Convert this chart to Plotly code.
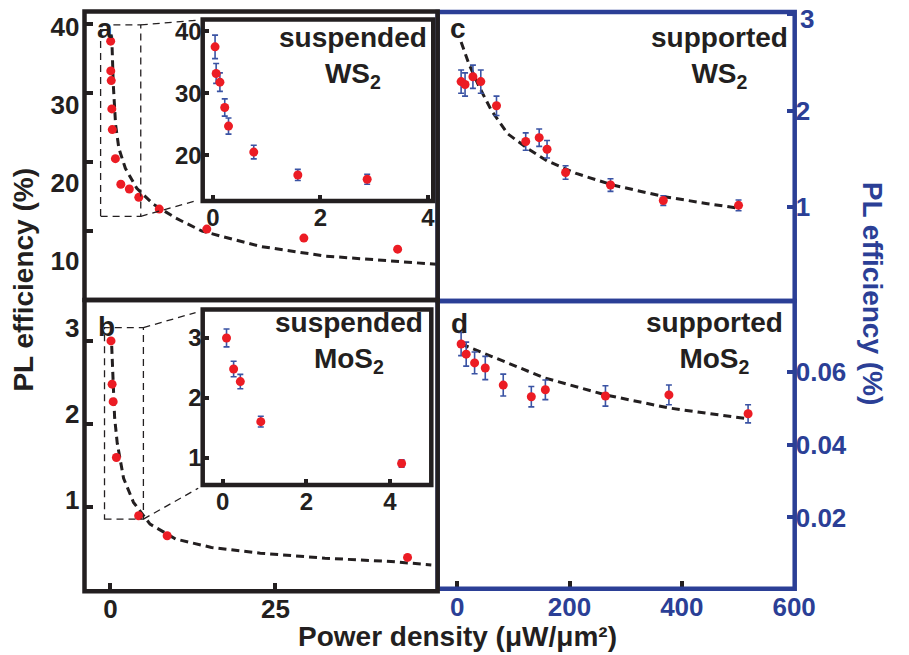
import plotly.graph_objects as go

# ---------------- data ----------------
# panel a: suspended WS2 (main + inset uses first 8 points)
a_x = [0.04, 0.06, 0.13, 0.22, 0.29, 0.76, 1.58, 2.87, 4.3, 7.4, 14.6, 29.3, 43.5]
a_y = [37.5, 33.2, 31.8, 27.7, 24.7, 20.5, 16.8, 16.1, 14.9, 13.2, 10.3, 9.0, 7.4]
a_err = [1.9, 1.6, 1.5, 1.4, 1.3, 1.1, 0.9, 0.8]
a_fit_x = [0.1, 0.25, 0.44, 0.79, 1.28, 2.27, 4.0, 6.5, 9.9, 13.9, 22.7, 32.5, 42.5, 49.4]
a_fit_y = [38.5, 36.9, 31.2, 25.4, 22.0, 19.1, 16.2, 13.9, 11.9, 10.0, 7.8, 6.4, 5.7, 5.2]

# panel b: suspended MoS2 (inset uses first 5 points)
b_x = [0.09, 0.26, 0.42, 0.91, 4.28, 8.6, 45.0]
b_y = [3.0, 2.48, 2.27, 1.60, 0.90, 0.66, 0.40]
b_err = [0.15, 0.13, 0.12, 0.09, 0.06]
b_fit_x = [0.2, 0.4, 0.64, 1.04, 2.0, 3.5, 6.0, 9.9, 15.3, 22.7, 32.5, 42.5, 48.6]
b_fit_y = [2.94, 2.48, 2.08, 1.77, 1.35, 1.06, 0.80, 0.62, 0.52, 0.45, 0.39, 0.35, 0.31]

# panel c: supported WS2
c_x = [7, 14, 28, 42, 70, 122, 146, 160, 193, 273, 367, 501]
c_y = [2.30, 2.27, 2.35, 2.30, 2.05, 1.68, 1.72, 1.60, 1.36, 1.23, 1.07, 1.02]
c_err = [0.12, 0.12, 0.12, 0.12, 0.10, 0.09, 0.09, 0.09, 0.07, 0.065, 0.05, 0.055]
c_fit_x = [7, 21, 38, 61, 90, 125, 160, 212, 277, 369, 443, 501]
c_fit_y = [2.71, 2.48, 2.26, 2.0, 1.76, 1.61, 1.48, 1.35, 1.23, 1.11, 1.04, 0.99]

# panel d: supported MoS2
d_x = [7, 16, 31, 50, 82, 132, 157, 264, 377, 518]
d_y = [0.0677, 0.0649, 0.0625, 0.0611, 0.0564, 0.0532, 0.0551, 0.0534, 0.0537, 0.0485]
d_err = [0.0032, 0.0033, 0.0030, 0.0032, 0.0030, 0.0028, 0.0027, 0.0028, 0.0027, 0.0025]
d_fit_x = [7, 68, 155, 264, 377, 518]
d_fit_y = [0.0677, 0.0638, 0.0584, 0.0537, 0.0501, 0.0471]

# tick labels
a_ticks = [10, 20, 30, 40]
b_ticks = [1, 2, 3]
c_ticks = [1, 2, 3]
c_top_label = "3"
d_ticks = [0.02, 0.04, 0.06]
ab_xticks = [0, 25]
cd_xticks = [0, 200, 400, 600]
ia_xticks = [0, 2, 4]
ia_yticks = [20, 30, 40]
ib_xticks = [0, 2, 4]
ib_yticks = [1, 2, 3]

# ---------------- style ----------------
W, H = 909, 655
BLACK = "#231F20"
BLUE = "#2B3F96"
RED = "#EC1C24"
EBLUE = "#3A53A4"
FONT = "Liberation Sans, Arial, Helvetica, sans-serif"


def px_x(p):
    return p / W


def px_y(p):
    return 1 - p / H


def tf(size, color=BLACK):
    return dict(family=FONT, size=size, color=color, weight="bold")


fig = go.Figure()

mk = dict(color=RED, size=9)
fitline = dict(color=BLACK, width=3, dash="8px,5px")


def pts(x, y, xa, ya, err=None):
    kw = {}
    if err is not None:
        kw["error_y"] = dict(type="data", array=err, color=EBLUE, thickness=1.6, width=3)
    fig.add_trace(go.Scatter(x=x, y=y, mode="markers", marker=mk, xaxis=xa, yaxis=ya,
                             showlegend=False, hoverinfo="skip", **kw))


def fit(x, y, xa, ya):
    fig.add_trace(go.Scatter(x=x, y=y, mode="lines", line=fitline, xaxis=xa, yaxis=ya,
                             showlegend=False, hoverinfo="skip"))


# main a / b
fit(a_fit_x, a_fit_y, "x", "y")
pts(a_x, a_y, "x", "y")
fit(b_fit_x, b_fit_y, "x2", "y2")
pts(b_x, b_y, "x2", "y2")
# c / d
fit(c_fit_x, c_fit_y, "x3", "y3")
pts(c_x, c_y, "x3", "y3", c_err)
fit(d_fit_x, d_fit_y, "x4", "y4")
pts(d_x, d_y, "x4", "y4", d_err)
# insets
pts(a_x[:len(a_err)], a_y[:len(a_err)], "x5", "y5", a_err)
pts(b_x[:len(b_err)], b_y[:len(b_err)], "x6", "y6", b_err)
# dummy traces for label-only axes
fig.add_trace(go.Scatter(x=[None], y=[None], xaxis="x", yaxis="y7", showlegend=False, hoverinfo="skip"))
fig.add_trace(go.Scatter(x=[None], y=[None], xaxis="x2", yaxis="y8", showlegend=False, hoverinfo="skip"))

base = dict(showgrid=False, zeroline=False, showline=False, fixedrange=True)

ab_xdom = [px_x(86.5), px_x(448)]
cd_xdom = [px_x(448), px_x(813.5)]
a_ydom = [px_y(299), px_y(9.5)]
b_ydom = [px_y(591), px_y(299)]
c_ydom = [px_y(300), px_y(10)]
d_ydom = [px_y(588.5), px_y(300)]
ia_xdom = [px_x(207.5), px_x(443.5)]
ia_ydom = [px_y(199.5), px_y(17.5)]
ib_xdom = [px_x(207.5), px_x(441.5)]
ib_ydom = [px_y(484.5), px_y(308.5)]

tick_in = dict(ticks="inside", ticklen=8, tickwidth=4, tickcolor=BLACK)

fig.update_layout(
    width=W, height=H,
    margin=dict(l=0, r=0, t=0, b=0),
    paper_bgcolor="white", plot_bgcolor="white",
    showlegend=False,
    # panel a
    xaxis=dict(**base, domain=ab_xdom, anchor="y", range=[-3.92, 49.56],
               showticklabels=False, ticks=""),
    yaxis=dict(**base, domain=a_ydom, anchor="x", range=[0.03, 41.8],
               tickvals=a_ticks, showticklabels=False, **tick_in),
    yaxis7=dict(**base, overlaying="y", anchor="x", side="left", range=[5.0, 41.98],
                tickvals=a_ticks, ticks="", tickfont=tf(26), ticklabelstandoff=4),
    # panel b
    xaxis2=dict(**base, domain=ab_xdom, anchor="y2", range=[-3.92, 49.56],
                tickvals=ab_xticks, tickfont=tf(26), **tick_in),
    yaxis2=dict(**base, domain=b_ydom, anchor="x2", range=[-0.006, 3.49],
                tickvals=b_ticks, showticklabels=False, **tick_in),
    yaxis8=dict(**base, overlaying="y2", anchor="x2", side="left", range=[-0.07, 3.326],
                tickvals=b_ticks, ticks="", tickfont=tf(26), ticklabelstandoff=4),
    # panel c
    xaxis3=dict(**base, domain=cd_xdom, anchor="y3", range=[-34.8, 601],
                showticklabels=False, ticks=""),
    yaxis3=dict(**base, domain=c_ydom, anchor="x3", side="right", range=[0.03, 3.02],
                tickvals=c_ticks, tickfont=tf(26, BLUE), ticks="inside", ticklen=8,
                tickwidth=4, tickcolor=BLUE),
    # panel d
    xaxis4=dict(**base, domain=cd_xdom, anchor="y4", range=[-34.8, 601],
                tickvals=cd_xticks, tickfont=tf(26, BLUE), **tick_in),
    yaxis4=dict(**base, domain=d_ydom, anchor="x4", side="right", range=[0.0004, 0.0795],
                tickvals=d_ticks, tickformat=".2f", tickfont=tf(26, BLUE), ticks="inside",
                ticklen=8, tickwidth=4, tickcolor=BLUE),
    # inset a
    xaxis5=dict(**base, domain=ia_xdom, anchor="y5", range=[-0.19, 4.1],
                tickvals=ia_xticks, tickfont=tf(24), ticks="inside", ticklen=6,
                tickwidth=4, tickcolor=BLACK),
    yaxis5=dict(**base, domain=ia_ydom, anchor="x5", range=[12.61, 41.93],
                tickvals=ia_yticks, tickfont=tf(24), ticks="inside", ticklen=6,
                tickwidth=4, tickcolor=BLACK),
    # inset b
    xaxis6=dict(**base, domain=ib_xdom, anchor="y6", range=[-0.48, 4.99],
                tickvals=ib_xticks, tickfont=tf(24), ticks="inside", ticklen=6,
                tickwidth=4, tickcolor=BLACK),
    yaxis6=dict(**base, domain=ib_ydom, anchor="x6", range=[0.54, 3.475],
                tickvals=ib_yticks, tickfont=tf(24), ticks="inside", ticklen=6,
                tickwidth=4, tickcolor=BLACK),
)

shapes = []
# blue frames (c, d) first, then black frames on top
for xa, ya in [("x3", "y3"), ("x4", "y4")]:
    shapes.append(dict(type="rect", xref=f"{xa} domain", yref=f"{ya} domain",
                       x0=0, x1=1, y0=0, y1=1, line=dict(color=BLUE, width=4.5)))
for xa, ya in [("x", "y"), ("x2", "y2")]:
    shapes.append(dict(type="rect", xref=f"{xa} domain", yref=f"{ya} domain",
                       x0=0, x1=1, y0=0, y1=1, line=dict(color=BLACK, width=4.5)))
for xa, ya in [("x5", "y5"), ("x6", "y6")]:
    shapes.append(dict(type="rect", xref=f"{xa} domain", yref=f"{ya} domain",
                       x0=0, x1=1, y0=0, y1=1, fillcolor="rgba(0,0,0,0)",
                       line=dict(color=BLACK, width=4.5)))
# zoom boxes and connectors
dl = dict(color=BLACK, width=1.3, dash="7px,5px")
shapes += [
    dict(type="rect", xref="x", yref="y", x0=-1.48, x1=4.6, y0=12.15, y1=39.86, line=dl),
    dict(type="line", xref="x", yref="y", x0=4.6, y0=39.86, x1=13.6, y1=40.58, line=dl),
    dict(type="line", xref="x", yref="y", x0=4.6, y0=12.15, x1=12.9, y1=14.39, line=dl),
    dict(type="rect", xref="x2", yref="y2", x0=-0.89, x1=5.0, y0=0.86, y1=3.16, line=dl),
    dict(type="line", xref="x2", yref="y2", x0=5.0, y0=3.16, x1=12.9, y1=3.34, line=dl),
    dict(type="line", xref="x2", yref="y2", x0=5.0, y0=0.86, x1=13.3, y1=1.23, line=dl),
]
fig.update_layout(shapes=shapes)

ann = []


def add_text(text, x, y, size, color=BLACK, xanchor="center", yanchor="middle", angle=0):
    ann.append(dict(text=text, x=px_x(x), y=px_y(y), xref="paper", yref="paper",
                    xanchor=xanchor, yanchor=yanchor, showarrow=False, textangle=angle,
                    font=tf(size, color)))


add_text("a", 97, 27, 28, xanchor="left")
add_text("b", 98, 325, 28, xanchor="left")
add_text("c", 459, 27, 28, xanchor="left")
add_text("d", 460, 322, 28, xanchor="left")

add_text("suspended<br>WS<sub>2</sub>", 361, 18, 28, yanchor="top")
add_text("suspended<br>MoS<sub>2</sub>", 357, 304, 28, yanchor="top")
add_text("supported<br>WS<sub>2</sub>", 737, 18, 28, yanchor="top")
add_text("supported<br>MoS<sub>2</sub>", 731, 304, 28, yanchor="top")

# top tick label of panel c (sits at the very top edge of the figure)
add_text(c_top_label, 817, 0, 26, color=BLUE, xanchor="left", yanchor="top")

add_text("PL efficiency (%)", 24, 278, 28, angle=-90)
add_text("PL efficiency (%)", 894, 293, 28, color=BLUE, angle=90)
add_text("Power density (μW/μm²)", 468, 636, 28)

fig.update_layout(annotations=ann)

fig.write_html("out.html")
